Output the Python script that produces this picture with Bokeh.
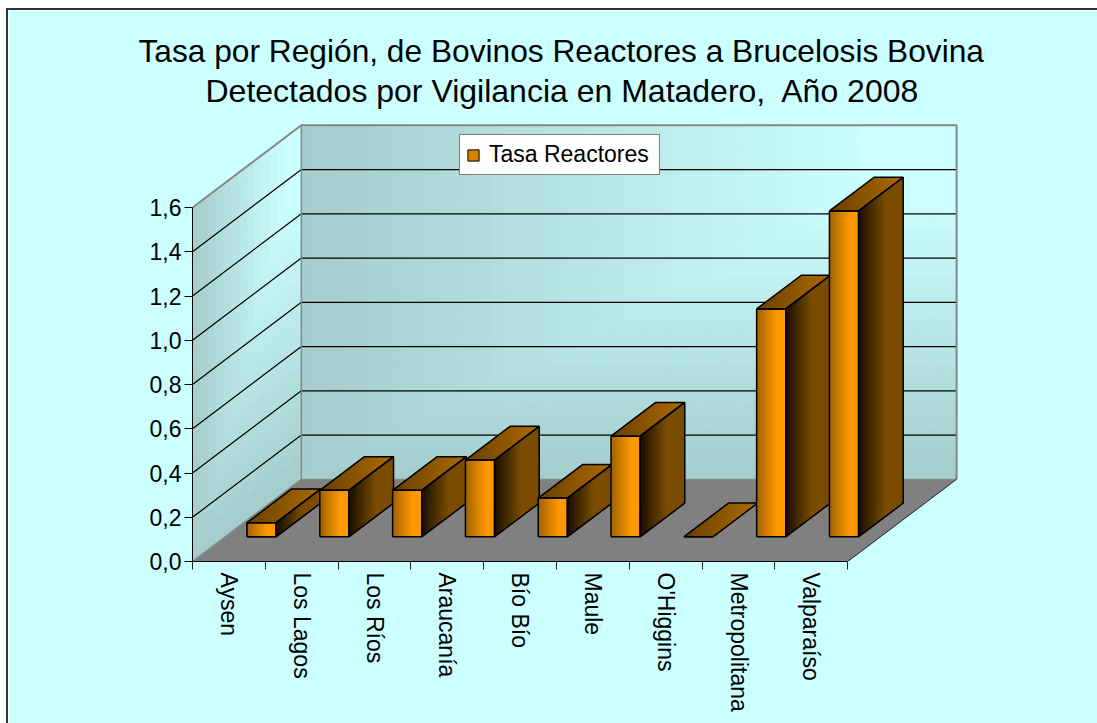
from bokeh.plotting import figure
from bokeh.models import LinearAxis, FixedTicker, Legend, LegendItem, Title
from bokeh.embed import file_html
from bokeh.resources import INLINE
import math

title_lines = ["Tasa por Región, de Bovinos Reactores a Brucelosis Bovina",
               "Detectados por Vigilancia en Matadero,\u00a0 Año 2008"]
categories = ["Aysen", "Los Lagos", "Los Ríos", "Araucanía", "Bío Bío", "Maule",
              "O'Higgins", "Metropolitana", "Valparaíso"]
values = [0.064, 0.21, 0.21, 0.347, 0.175, 0.455, 0.0, 1.03, 1.473]
y_ticks = [0, 0.2, 0.4, 0.6, 0.8, 1.0, 1.2, 1.4, 1.6]
y_tick_labels = ["0,0", "0,2", "0,4", "0,6", "0,8", "1,0", "1,2", "1,4", "1,6"]
series_name = "Tasa Reactores"

PX_X, PX_Y = 72.9, 222.0      # pixels per category / per unit
FRAME_W, FRAME_H = 770, 440.5
DX, DY = 109 / PX_X, 82.5 / PX_Y  # oblique depth
BAR_W = 0.4
D0, D1 = 0.3, 0.71

def proj(x, v, d):
    return x + DX * d, v + DY * d

def mix(a, b, t):
    t = max(0.0, min(1.0, t))
    return "#%02x%02x%02x" % tuple(round(a[i] + (b[i] - a[i]) * t) for i in range(3))

def quad(pts):
    xy = [proj(*p) for p in pts]
    return [q[0] for q in xy], [q[1] for q in xy]

p = figure(width=1091, height=715, x_range=(0, FRAME_W / PX_X), y_range=(0, FRAME_H / PX_Y),
           x_axis_type=None, y_axis_type=None, toolbar_location=None, output_backend="svg",
           min_border_left=184, min_border_right=138, min_border_top=112, min_border_bottom=164,
           border_fill_color="#ccffff", background_fill_color="#ccffff", outline_line_color=None,
           styles={"margin-left": "6px", "margin-top": "8px"})

wall_a, wall_b = (165, 204, 204), (204, 255, 255)
XMAX, VMAX = len(categories), y_ticks[-1]

def cells(nu, nv, corner):
    xs, ys, cs = [], [], []
    for i in range(nu):
        for j in range(nv):
            u0, u1, v0, v1 = i / nu, (i + 1) / nu, j / nv, (j + 1) / nv
            qx, qy = corner(u0, v0, u1, v1)
            xs.append(qx); ys.append(qy)
            t = min((u0 + u1) / 2 * 1.15, (v0 + v1) / 2 * 1.25)
            cs.append(mix(wall_a, wall_b, t))
    return xs, ys, cs

def back_cell(u0, v0, u1, v1):
    return quad([(u0 * XMAX, v0 * VMAX, 1), (u1 * XMAX, v0 * VMAX, 1), (u1 * XMAX, v1 * VMAX, 1), (u0 * XMAX, v1 * VMAX, 1)])

def left_cell(u0, v0, u1, v1):
    return quad([(0, v0 * VMAX, u0), (0, v0 * VMAX, u1), (0, v1 * VMAX, u1), (0, v1 * VMAX, u0)])

for fn, nu, nv in ((back_cell, 48, 28), (left_cell, 14, 28)):
    xs, ys, cs = cells(nu, nv, fn)
    p.patches(xs, ys, fill_color=cs, line_color=cs, line_width=1)

# floor
fx, fy = quad([(0, 0, 0), (XMAX, 0, 0), (XMAX, 0, 1), (0, 0, 1)])
p.patch(fx, fy, fill_color="#808080", line_color=None)

# grid lines on the two walls
for t in y_ticks[1:-1]:
    lx, ly = quad([(0, t, 0), (0, t, 1), (XMAX, t, 1)])
    p.line(lx, ly, line_color="#000000", line_width=1.2)

# wall edges
lx, ly = quad([(0, VMAX, 0), (0, VMAX, 1), (XMAX, VMAX, 1), (XMAX, 0, 1)])
p.line(lx, ly, line_color="#868686", line_width=2)
lx, ly = quad([(0, 0, 0), (0, 0, 1), (0, VMAX, 1)])
p.line(lx, ly, line_color="#868686", line_width=1.5)
lx, ly = quad([(0, 0, 1), (XMAX, 0, 1)])
p.line(lx, ly, line_color="#868686", line_width=1)
lx, ly = quad([(XMAX, 0, 0), (XMAX, 0, 1)])
p.line(lx, ly, line_color="#202020", line_width=1)

legend_src = None
front_a, front_b = (160, 98, 0), (255, 153, 0)
side_a, side_b = (24, 14, 0), (122, 76, 0)
top_a, top_b = (104, 64, 0), (178, 110, 0)
NS = 24
for i, val in enumerate(values):
    x0 = i + 0.5 - BAR_W / 2
    xs, ys, cs = [], [], []
    # top face: each strip runs on to the far edge, so no seams show
    NA, NB = 10, 8
    for a in range(NA):
        for b in range(NB):
            s0, d0 = a / NA, b / NB
            qx, qy = quad([(x0 + s0 * BAR_W, val, D0 + d0 * (D1 - D0)), (x0 + BAR_W, val, D0 + d0 * (D1 - D0)),
                           (x0 + BAR_W, val, D1), (x0 + s0 * BAR_W, val, D1)])
            xs.append(qx); ys.append(qy)
            cs.append(mix(top_a, top_b, ((s0 + 0.5 / NA) * 29 + (d0 + 0.5 / NB) * 45) / 74))
    if val > 0:
        for k in range(NS):
            d0 = D0 + k / NS * (D1 - D0)
            qx, qy = quad([(x0 + BAR_W, 0, d0), (x0 + BAR_W, 0, D1), (x0 + BAR_W, val, D1), (x0 + BAR_W, val, d0)])
            xs.append(qx); ys.append(qy)
            cs.append(mix(side_a, side_b, (k + 0.5) / NS / 0.6))
        for k in range(NS):
            s0 = x0 + k / NS * BAR_W
            qx, qy = quad([(s0, 0, D0), (x0 + BAR_W, 0, D0), (x0 + BAR_W, val, D0), (s0, val, D0)])
            xs.append(qx); ys.append(qy)
            cs.append(mix(front_a, front_b, (k + 0.5) / NS / 0.7))
    fqx, fqy = quad([(x0, 0, D0), (x0 + BAR_W, 0, D0), (x0 + BAR_W, val, D0), (x0, val, D0)])
    if legend_src is None:
        legend_src = p.patch(fqx, fqy, fill_color="#d98200", line_color="#000000", line_width=1)
    p.patches(xs, ys, fill_color=cs, line_color=None)
    # outlines
    tx, ty = quad([(x0, val, D0), (x0 + BAR_W, val, D0), (x0 + BAR_W, val, D1), (x0, val, D1), (x0, val, D0)])
    p.line(tx, ty, line_color="#000000", line_width=1.5)
    if val > 0:
        sx, sy = quad([(x0 + BAR_W, 0, D0), (x0 + BAR_W, 0, D1), (x0 + BAR_W, val, D1), (x0 + BAR_W, val, D0), (x0 + BAR_W, 0, D0)])
        p.line(sx, sy, line_color="#000000", line_width=1.5)
        fx2, fy2 = quad([(x0, 0, D0), (x0 + BAR_W, 0, D0), (x0 + BAR_W, val, D0), (x0, val, D0), (x0, 0, D0)])
        p.line(fx2, fy2, line_color="#000000", line_width=1.5)
    else:
        bx, by = quad([(x0, 0, D0), (x0 + BAR_W, 0, D0)])
        p.line(bx, by, line_color="#000000", line_width=1.5)

# axes
FONT = "Liberation Sans"
yaxis = LinearAxis(bounds=(0, VMAX), ticker=FixedTicker(ticks=y_ticks),
                   major_label_overrides=dict(zip(y_ticks, y_tick_labels)),
                   major_label_text_font=FONT, major_label_text_font_size="23px",
                   major_label_text_color="#000000", major_label_standoff=3,
                   major_tick_in=0, major_tick_out=8, major_tick_line_color="#000000",
                   minor_tick_line_color=None, axis_line_color="#000000", axis_line_width=1)
p.add_layout(yaxis, "left")

mids = [k + 0.5 for k in range(len(categories))]
xaxis = LinearAxis(bounds=(0, XMAX),
                   ticker=FixedTicker(ticks=mids, minor_ticks=list(range(len(categories) + 1))),
                   major_label_overrides=dict(zip(mids, categories)),
                   major_label_orientation=-math.pi / 2,
                   major_label_text_font=FONT, major_label_text_font_size="23px",
                   major_label_text_color="#000000", major_label_standoff=3,
                   major_tick_line_color=None, minor_tick_in=0, minor_tick_out=8,
                   minor_tick_line_color="#202020", axis_line_color="#000000", axis_line_width=1)
p.add_layout(xaxis, "below")

# legend
legend = Legend(items=[LegendItem(label=series_name, renderers=[legend_src])],
                location=(267, 386), orientation="vertical", margin=0, padding=6,
                glyph_width=14, glyph_height=14, label_standoff=9, spacing=0, label_width=164,
                label_text_font=FONT, label_text_font_size="23px", label_text_color="#000000",
                background_fill_color="#ffffff", background_fill_alpha=1,
                border_line_color="#000000", border_line_width=1)
p.add_layout(legend, "center")

# title: the lower line is added first and lies nearest the plot
for line, st, off, fs in zip(reversed(title_lines), (28, -24), (13, -54), ("32px", "31.7px")):
    p.add_layout(Title(text=line, align="left", offset=off, standoff=st,
                       text_font=FONT, text_font_size=fs, text_font_style="normal",
                       text_color="#000000"), "above")

# chart border
p.styles.update({"border-left": "2px solid #333333", "border-top": "2px solid #333333", "box-sizing": "border-box"})

open("out.html", "w").write(file_html(p, INLINE))
